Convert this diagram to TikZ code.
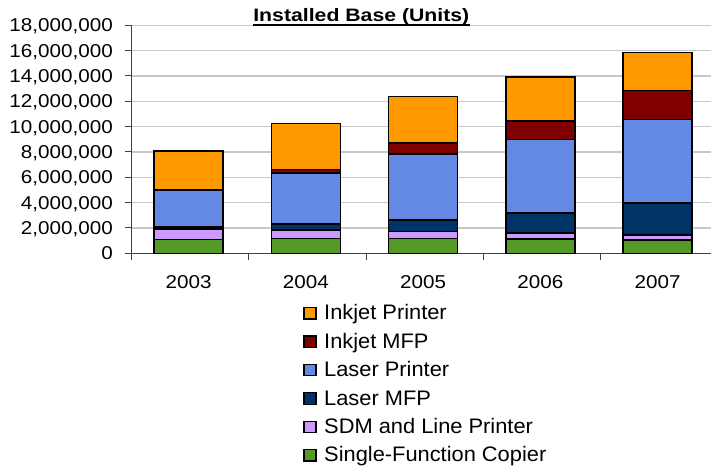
\documentclass[tikz,border=0pt]{standalone}
\usepackage{fontspec}
\setmainfont{Liberation Sans}[FakeStretch=1.11]
\newfontfamily\titlefont{Liberation Sans}[FakeStretch=1.18]
\newfontfamily\keyfont{Liberation Sans}[FakeStretch=1.04]

\definecolor{inkprinter}{HTML}{FF9900}
\definecolor{inkmfp}{HTML}{800000}
\definecolor{laserprinter}{HTML}{6389E4}
\definecolor{lasermfp}{HTML}{003366}
\definecolor{sdmline}{HTML}{CC99FF}
\definecolor{copier}{HTML}{559926}
\definecolor{gridgray}{HTML}{C8C8C8}
\definecolor{axisgray}{HTML}{404040}

\tikzset{
  gridline/.style={draw=gridgray, line width=1.1pt},
  axisline/.style={draw=axisgray, line width=1pt},
  barseg/.style={draw=black, line width=1.6pt, line join=miter},
  ticklabel/.style={anchor=base east, inner sep=0pt},
  yearlabel/.style={anchor=base, inner sep=0pt},
  legendbox/.style={draw=black, line width=1.2pt, minimum width=12pt, minimum height=11.5pt, inner sep=0pt},
  legendtext/.style={anchor=base west, inner sep=0pt, font=\keyfont\fontsize{21}{23}\selectfont},
}

% value (millions) -> vertical position
\newcommand{\vpos}[1]{253.3-12.665*#1}
% one stacked segment: colour, lower value, upper value, bar centre
\newcommand{\drawseg}[4]{%
  \filldraw[barseg, fill=#1] ({#4-34.5},{\vpos{#2}}) rectangle ({#4+34.5},{\vpos{#3}});}

\begin{document}
\begin{tikzpicture}[x=1pt, y=-1pt, font=\fontsize{18.6}{20}\selectfont]
\useasboundingbox (0,0) rectangle (711,470);

% horizontal gridlines
\foreach \k in {1,...,9}
  \draw[gridline] (131,{253.3-25.33*\k}) -- (711,{253.3-25.33*\k});

% value axis labels and ticks
\foreach \k/\t in {0/0, {1/2,000,000}, {2/4,000,000}, {3/6,000,000}, {4/8,000,000},
                   {5/10,000,000}, {6/12,000,000}, {7/14,000,000}, {8/16,000,000}, {9/18,000,000}} {
  \node[ticklabel] (ylab\k) at (113,{253.3-25.33*\k+6.6}) {\t};
  \draw[axisline] (125,{253.3-25.33*\k}) -- (131,{253.3-25.33*\k});
}

% axes
\draw[axisline] (131,25) -- (131,253.3) -- (711,253.3);
\foreach \k in {0,...,5}
  \draw[axisline] ({131.7+117.2*\k},253.3) -- ++(0,7);

% stacked bars: copier, SDM/line, laser MFP, laser printer, inkjet MFP, inkjet printer
\foreach \cx/\ya/\yb/\yc/\yd/\ye/\yf/\yr [count=\i] in {
    188.7/1.10/1.90/2.10/5.00/5.00/8.10/2003,
    305.9/1.18/1.84/2.29/6.36/6.63/10.26/2004,
    423.1/1.18/1.71/2.63/7.84/8.73/12.37/2005,
    540.4/1.13/1.58/3.20/9.00/10.45/13.90/2006,
    657.6/1.05/1.45/3.95/10.58/12.84/15.84/2007} {
  \drawseg{copier}{0}{\ya}{\cx}
  \drawseg{sdmline}{\ya}{\yb}{\cx}
  \drawseg{lasermfp}{\yb}{\yc}{\cx}
  \drawseg{laserprinter}{\yc}{\yd}{\cx}
  \drawseg{inkmfp}{\yd}{\ye}{\cx}
  \drawseg{inkprinter}{\ye}{\yf}{\cx}
  \node[yearlabel] (year\i) at (\cx,288.8) {\yr};
}

% title
\node[anchor=base, inner sep=0pt, font=\titlefont\bfseries\fontsize{18}{20}\selectfont]
  (title) at (361.3,22) {Installed Base (Units)};
\draw[black, line width=2.4pt] ([yshift=-3.2pt]title.base west) -- ([yshift=-3.2pt]title.base east);

% legend
\foreach \c/\t [count=\j from 0] in {inkprinter/Inkjet Printer, inkmfp/Inkjet MFP,
    laserprinter/Laser Printer, lasermfp/Laser MFP, sdmline/SDM and Line Printer,
    copier/Single-Function Copier} {
  \node[legendbox, fill=\c] (key\j) at (310,{313.3+28.4*\j}) {};
  \node[legendtext] (entry\j) at (324,{319.8+28.4*\j}) {\t};
}
\end{tikzpicture}
\end{document}
